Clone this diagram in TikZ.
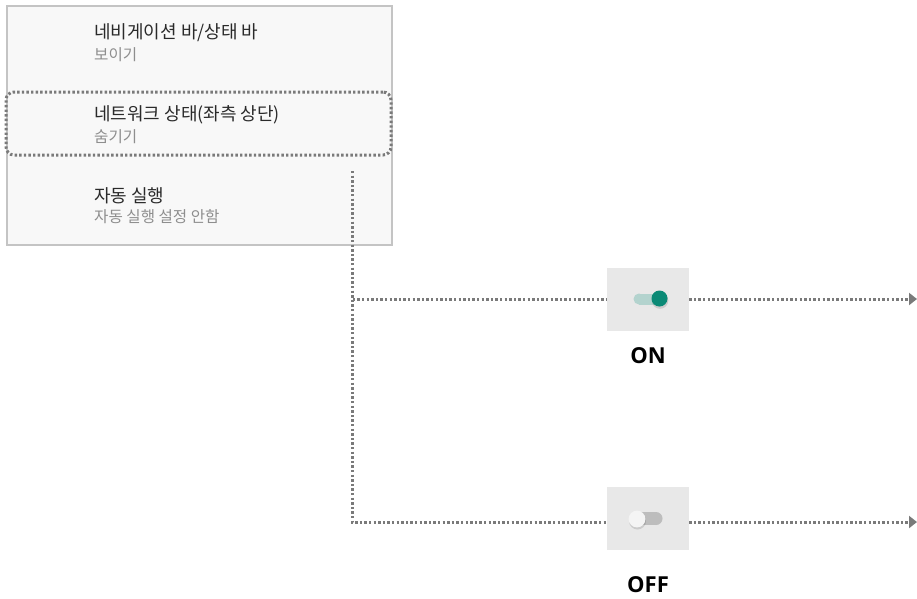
\documentclass[tikz,border=0pt]{standalone}
\usepackage{fontspec}
\setmainfont{Open Sans}
\newfontfamily\kr{Noto Sans CJK KR}
\newfontfamily\lab{Open Sans}
\usetikzlibrary{arrows.meta}
\definecolor{titlec}{HTML}{2A2A2A}
\definecolor{subc}{HTML}{8E8E8E}
\definecolor{panelfill}{HTML}{F8F8F8}
\definecolor{panelline}{HTML}{C4C4C4}
\definecolor{dotc}{HTML}{7A7A7A}
\definecolor{boxfill}{HTML}{E8E8E8}
\definecolor{tealk}{HTML}{0B8A76}
\definecolor{tealt}{HTML}{B3D3CE}
\definecolor{greyt}{HTML}{BDBDBD}
\definecolor{knobw}{HTML}{F4F4F4}
\tikzset{
  x=1pt, y=-1pt,
  panel/.style={draw=panelline, line width=1.4pt, fill=panelfill, minimum width=385pt, minimum height=239pt, inner sep=0pt},
  hilite/.style={draw=dotc, line width=3pt, dash pattern=on 2.4pt off 2.2pt, rounded corners=8pt, minimum width=385pt, minimum height=63pt, inner sep=0pt},
  ttl/.style={anchor=west, inner sep=0pt, font=\kr\fontsize{18}{20}\selectfont, text=titlec},
  sub/.style={anchor=west, inner sep=0pt, font=\kr\fontsize{15.6}{17}\selectfont, text=subc},
  togbox/.style={fill=boxfill, minimum width=82pt, minimum height=63pt, inner sep=0pt},
  statelab/.style={inner sep=0pt, font=\lab\bfseries\fontsize{22}{24}\selectfont, text=black},
  dots/.style={draw=dotc, line width=3pt, dash pattern=on 2.4pt off 2.2pt},
  arr/.style={dots, -{Triangle[length=8pt,width=12pt,fill=dotc]}},
}
\begin{document}
\begin{tikzpicture}
\useasboundingbox (0,0) rectangle (917,598);
% panel
\node[panel] (panel) at (199.5,125.5) {};
\node[ttl] (t1) at (94,33) {네비게이션 바/상태 바};
\node[sub] (s1) at (94,55) {보이기};
\node[ttl] (t2) at (94,115) {네트워크 상태(좌측 상단)};
\node[sub] (s2) at (94,137) {숨기기};
\node[ttl] (t3) at (94,196) {자동 실행};
\node[sub] (s3) at (94,217) {자동 실행 설정 안함};
\node[hilite] (hl) at (198.5,123.5) {};
% toggle boxes
\node[togbox] (onbox) at (648,299) {};
\node[togbox] (offbox) at (648,518) {};
\node[statelab] (onlab) at (648,356) {ON};
\node[statelab] (offlab) at (648,585) {OFF};
% toggles
\fill[tealt] (639,293.5) rectangle (657,304.5);
\fill[tealt] (639,299) circle (5.5pt);
\fill[black, opacity=0.12] (660,300.5) circle (8.3pt);
\fill[tealk] (659.5,298.5) circle (8pt);
\fill[greyt] (640,512) rectangle (656,525);
\fill[greyt] (656,518.5) circle (6.5pt);
\fill[black, opacity=0.12] (637.5,521) circle (8.5pt);
\fill[knobw] (637,519) circle (8.4pt);
% connectors
\coordinate (start) at (352,171);
\coordinate (onend) at (917,299);
\coordinate (offend) at (917,522);
\draw[dots] (start) |- (onbox.west |- 0,299);
\draw[dots] (start) |- (offbox.west |- 0,522);
\draw[arr] (onbox.east |- 0,299) -- (onend);
\draw[arr] (offbox.east |- 0,522) -- (offend);
\end{tikzpicture}
\end{document}
